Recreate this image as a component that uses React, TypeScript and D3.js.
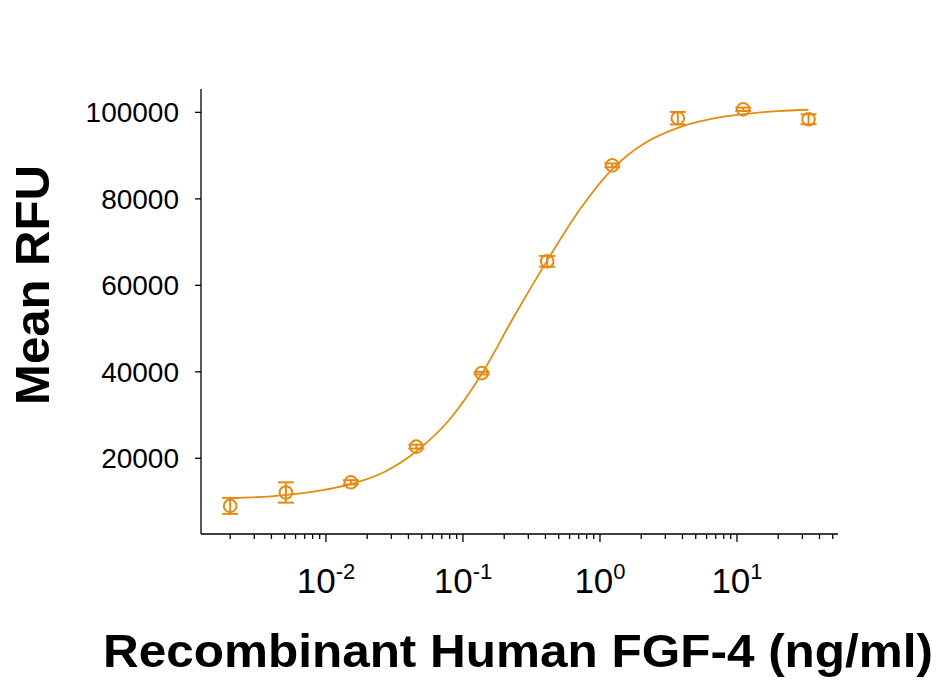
import React from 'react';
import * as d3 from 'd3';

// FGF-4 concentrations (ng/ml) and mean RFU with error (SD)
const doses = [0.002, 0.0051, 0.0152, 0.0457, 0.137, 0.412, 1.23, 3.7, 11.1, 33.3];
const meanRfu = [9000, 12100, 14450, 22700, 39700, 65550, 87750, 98650, 100700, 98400];
const errRfu = [1850, 2350, 500, 450, 300, 1250, 450, 1450, 400, 1150];

// fitted curve
const fitX = [0.002, 0.005, 0.0092, 0.015, 0.0269, 0.046, 0.0804, 0.137, 0.24, 0.417, 0.715, 1.24, 2.13, 3.7, 8.0, 11.1, 20, 33.3];
const fitY = [10750, 11500, 12600, 14000, 16900, 21700, 29100, 39500, 53200, 66000, 77600, 87000, 92900, 96400, 99000, 99600, 100300, 100600];

const yTicks = [20000, 40000, 60000, 80000, 100000];
const xMajor = [0.01, 0.1, 1, 10];
const xMajorExp = ['-2', '-1', '0', '1'];

const W = 940;
const H = 681;
const ORANGE = '#E58B14';
const FONT = 'Arial, "Liberation Sans", sans-serif';

export default function App() {
  const x = d3.scaleLog().domain([0.001225, 54.6]).range([201, 838]);
  const y = d3.scaleLinear().domain([2500, 105400]).range([534, 89]);

  const minor: number[] = [];
  [0.001, 0.01, 0.1, 1, 10].forEach((dec) => {
    for (let k = 2; k <= 9; k++) {
      const v = dec * k;
      if (v >= x.domain()[0] && v <= x.domain()[1]) minor.push(v);
    }
  });

  const line = d3
    .line<number>()
    .x((d) => x(d))
    .y((_, i) => y(fitY[i]))
    .curve(d3.curveMonotoneX);

  return (
    <svg
      width={W}
      height={H}
      style={{ position: 'absolute', left: 0, top: 0, background: '#fff' }}
      fontFamily={FONT}
    >
      {/* axes */}
      <g stroke="#000" strokeWidth={1.3} fill="none">
        <line x1={201} x2={201} y1={89} y2={534} />
        <line x1={201} x2={838} y1={534} y2={534} />
        {yTicks.map((t) => (
          <line key={t} x1={195} x2={201} y1={y(t)} y2={y(t)} />
        ))}
        {xMajor.map((t) => (
          <line key={t} x1={x(t)} x2={x(t)} y1={534} y2={542} />
        ))}
        {minor.map((t) => (
          <line key={t} x1={x(t)} x2={x(t)} y1={534} y2={539} />
        ))}
      </g>

      {yTicks.map((t) => (
        <text key={t} x={179} y={y(t) + 10} fontSize={28} textAnchor="end" fill="#000">
          {t}
        </text>
      ))}

      {xMajor.map((t, i) => (
        <text key={t} x={x(t)} y={593} fontSize={35} textAnchor="middle" fill="#000">
          10
          <tspan fontSize={22} dy={-14}>
            {xMajorExp[i]}
          </tspan>
        </text>
      ))}

      {/* fitted curve */}
      <path d={line(fitX) ?? ''} fill="none" stroke={ORANGE} strokeWidth={1.8} />

      {/* points with error bars */}
      <g stroke={ORANGE} strokeWidth={2} fill="none">
        {doses.map((d, i) => {
          const cx = x(d);
          const cy = y(meanRfu[i]);
          const top = y(meanRfu[i] + errRfu[i]);
          const bot = y(meanRfu[i] - errRfu[i]);
          return (
            <g key={d}>
              <line x1={cx} x2={cx} y1={top} y2={bot} />
              <line x1={cx - 8} x2={cx + 8} y1={top} y2={top} />
              <line x1={cx - 8} x2={cx + 8} y1={bot} y2={bot} />
              <circle cx={cx} cy={cy} r={6.3} />
            </g>
          );
        })}
      </g>

      <text
        transform="translate(49,285) rotate(-90)"
        textAnchor="middle"
        fontSize={48}
        fontWeight="bold"
        textLength={240}
        lengthAdjust="spacingAndGlyphs"
        fill="#000"
      >
        Mean RFU
      </text>
      <text
        x={518}
        y={667}
        textAnchor="middle"
        fontSize={47}
        fontWeight="bold"
        textLength={830}
        lengthAdjust="spacingAndGlyphs"
        fill="#000"
      >
        Recombinant Human FGF-4 (ng/ml)
      </text>
    </svg>
  );
}
